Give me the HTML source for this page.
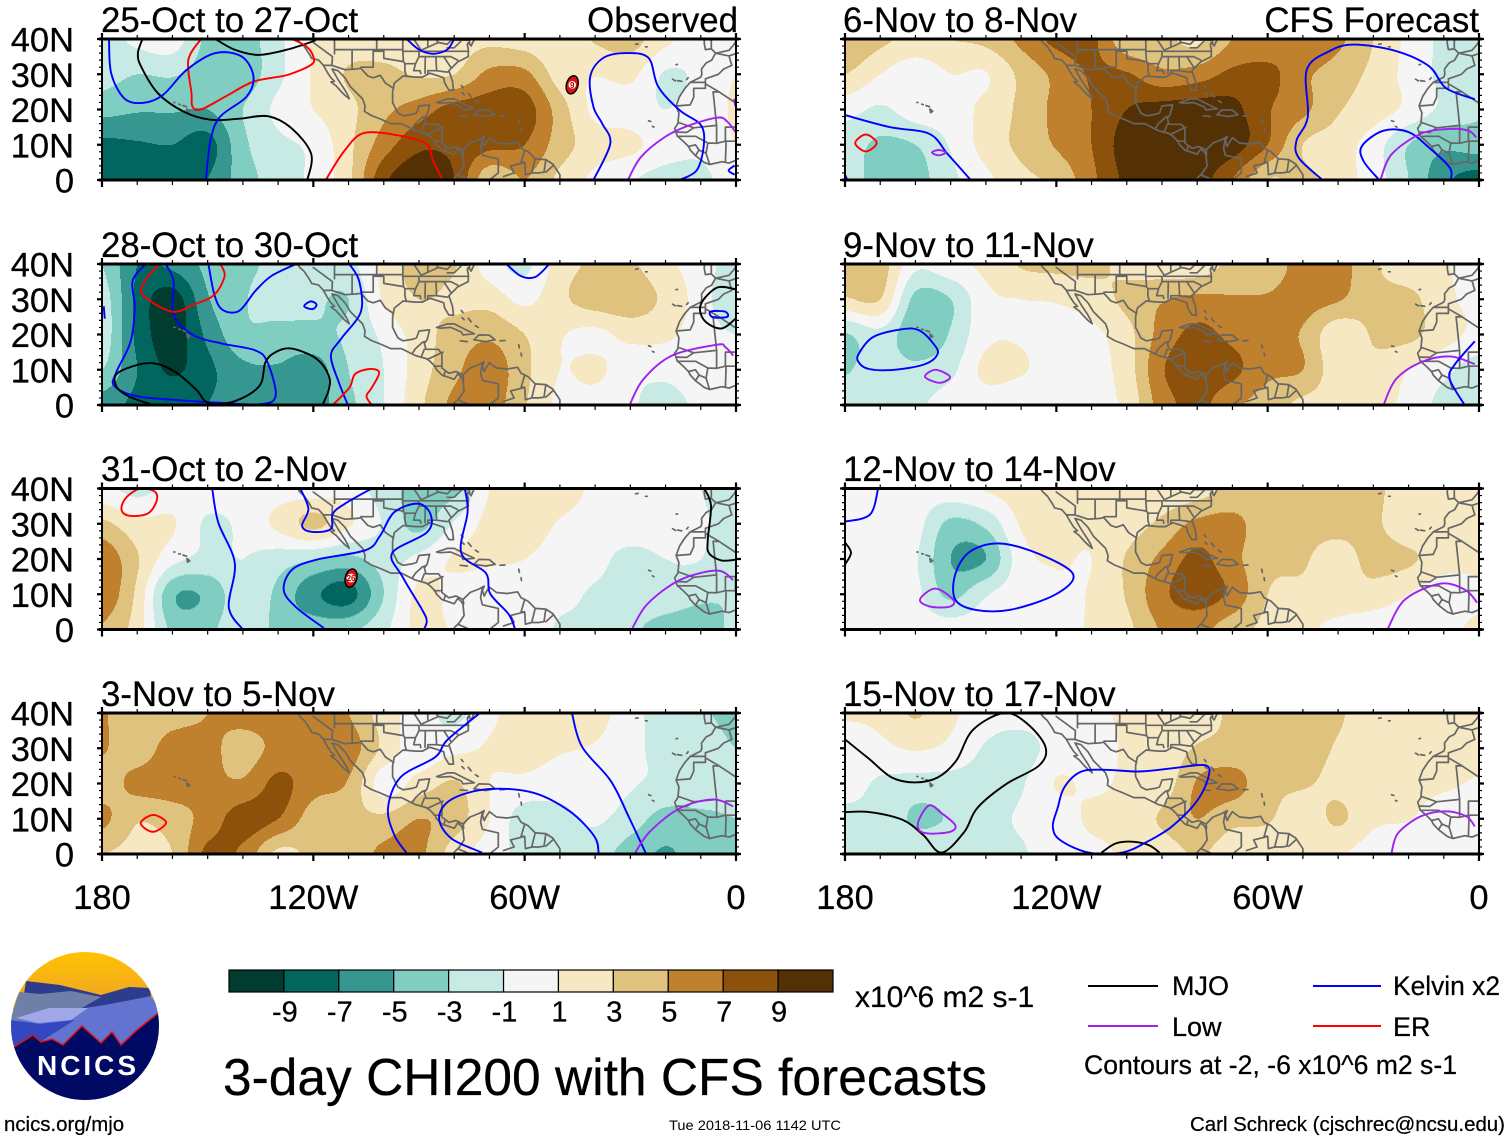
<!DOCTYPE html>
<html lang="en">
<head>
<meta charset="utf-8">
<title>3-day CHI200 with CFS forecasts</title>
<style>
html,body{margin:0;padding:0;background:#fff;}
svg{display:block;}
text{font-family:"Liberation Sans",sans-serif;fill:#000;stroke:#000;stroke-width:0.25px;}
</style>
</head>
<body>
<svg id="chart" xmlns="http://www.w3.org/2000/svg" width="1510" height="1141" viewBox="0 0 1510 1141">
<rect x="0" y="0" width="1510" height="1141" fill="#fff"/>

<g font-size="34.8">
<text x="101" y="32">25-Oct to 27-Oct</text>
<text x="738" y="32" text-anchor="end">Observed</text>
<text x="101" y="257">28-Oct to 30-Oct</text>
<text x="101" y="481">31-Oct to 2-Nov</text>
<text x="101" y="706">3-Nov to 5-Nov</text>
<text x="843" y="32">6-Nov to 8-Nov</text>
<text x="1479" y="32" text-anchor="end">CFS Forecast</text>
<text x="843" y="257">9-Nov to 11-Nov</text>
<text x="843" y="481">12-Nov to 14-Nov</text>
<text x="843" y="706">15-Nov to 17-Nov</text>
</g>

<g id="panels"></g>
<g id="colorbar"></g>

<text x="855" y="1007" font-size="30">x10^6 m2 s-1</text>

<g>
<line x1="1088" y1="986" x2="1158" y2="986" stroke="#000" stroke-width="2"/>
<text x="1172" y="995" font-size="27">MJO</text>
<line x1="1088" y1="1026" x2="1158" y2="1026" stroke="#a020f0" stroke-width="2"/>
<text x="1172" y="1036" font-size="27">Low</text>
<line x1="1313" y1="986" x2="1381" y2="986" stroke="#0000ff" stroke-width="2"/>
<text x="1393" y="995" font-size="27" textLength="107" lengthAdjust="spacingAndGlyphs">Kelvin x2</text>
<line x1="1313" y1="1026" x2="1381" y2="1026" stroke="#ff0000" stroke-width="2"/>
<text x="1393" y="1036" font-size="27">ER</text>
<text x="1084" y="1074" font-size="27" textLength="373" lengthAdjust="spacingAndGlyphs">Contours at -2, -6 x10^6 m2 s-1</text>
</g>

<text x="223" y="1095" font-size="51.5" textLength="764" lengthAdjust="spacingAndGlyphs">3-day CHI200 with CFS forecasts</text>
<text x="4" y="1131" font-size="20.4">ncics.org/mjo</text>
<text x="669" y="1130" font-size="14" textLength="172" lengthAdjust="spacingAndGlyphs" style="stroke-width:0">Tue 2018-11-06 1142 UTC</text>
<text x="1190" y="1131" font-size="20.5" textLength="315" lengthAdjust="spacingAndGlyphs">Carl Schreck (cjschrec@ncsu.edu)</text>

<g>
<clipPath id="logoClip"><circle cx="85" cy="1026" r="74"/></clipPath>
<linearGradient id="sky" x1="0" y1="0" x2="0" y2="1"><stop offset="0" stop-color="#ffc400"/><stop offset="1" stop-color="#eea02a"/></linearGradient>
<g clip-path="url(#logoClip)">
<rect x="10" y="950" width="150" height="60" fill="url(#sky)"/>
<polygon points="26,981 60,985 101,995 129,987 150,988 162,1100 8,1100" fill="#2e3c8c"/>
<polygon points="19,992 40,994 71,991 101,997 82,1008 60,1008 9,1024" fill="#6f7fa8"/>
<polygon points="151,996 162,1012 150,1050 8,1050 12,1022 60,1008 85,1008 105,1005" fill="#6373d0"/>
<polygon points="9,1020 40,1024 75,1020 40,1042 9,1050" fill="#3347c0"/>
<polygon points="16,1018 49,1008 88,1008 71,1020 38,1023" fill="#a0a8e8"/>
<polygon points="8,1048 14,1047 33,1035 41,1042 52,1039 63,1045 82,1026 101,1043 112,1032 121,1045 137,1030 162,1010 162,1102 8,1102" fill="#000a64"/>
<polyline points="8,1048 14,1047 33,1035 41,1042 52,1039 63,1045 82,1026 101,1043 112,1032 121,1045 137,1030 162,1010" fill="none" stroke="#e01010" stroke-width="1.5"/>
</g>
<text x="37" y="1075" font-size="28" font-weight="bold" textLength="99" style="fill:#fff;stroke:none">NCICS</text>
</g>
</svg>

<script>
// ---- Colour scale ----
const levelTicks = [-9,-7,-5,-3,-1,1,3,5,7,9];
const bandColors = ['#003c30','#01665e','#35978f','#80cdc1','#c7eae5','#f5f5f5','#f6e8c3','#dfc27d','#bf812d','#8c510a','#543005'];

// ---- Axis labels ----
const xTickLons = [180,120,60,0];
const xTickLabels = ['180','120W','60W','0'];
const yTickLats = [40,30,20,10,0];
const yTickLabels = ['40N','30N','20N','10N','0'];

// ---- CHI200 anomaly fields: rows 40N,30N,20N,10N,0; columns 180,170W ... 10W,0 ----
const chi25Oct = [
[-2,-0.5,0,-3.5,-4,-1.5,1.2,2,2,2,2.2,2.5,2,1.5,3.2,3.8,1.5,0,0],
[-2.2,-3,-2.8,-4,-4.2,-1.5,1.2,3.2,3.5,2.8,3,5.5,5.5,2,1.1,1.5,-1.2,-0.5,1],
[-4.3,-4.8,-4.8,-5,-3,-0.5,1,2.5,4.5,6,7.8,8,8,4,0.5,0,-1,0,1.2],
[-7.5,-7.2,-7,-7.8,-3.5,-1.5,-0.5,2.5,6,8.5,8.5,7.5,7,4,2,1.5,0,-0.5,1],
[-8,-8,-8,-7,-4,-2,-0.5,2.5,8.5,10.5,9,3.5,5,2.5,0.5,-0.8,-1.8,-1.5,0]];
const chi28Oct = [
[-3,-7,-6.5,-4.5,-3.5,-2.5,-2,-1.6,1.5,4,3.2,0,-1.5,2,3.3,3.3,1.5,0,-2],
[-2,-7.5,-10,-5.2,-3.2,-2.3,-2.6,-3,1.2,3,2.5,2.2,0.5,2.5,4,4.2,2.5,0,-3],
[-1.8,-7.5,-10,-6.5,-3.5,-3.6,-3.5,-2.6,-0.5,2,3.8,4.6,3,1.2,0.5,1.6,1.4,0,-1],
[-3,-7,-9.3,-7.5,-5.5,-5.2,-6,-3,-1,2,4.5,6.2,3.5,1,1.5,-0.3,-0.5,0,0],
[-6,-7.5,-7.5,-7,-6,-5.5,-5.8,-3.5,-1,2.5,5.5,6,3.2,0.5,0,-0.8,-1.6,-0.6,0]];
const chi31Oct = [
[-0.5,-1.6,-0.3,0,0,0,0,0,-2,-3.8,-3.5,1,2,2.2,0.5,0,0,-1,-2.5],
[3.5,1.6,1.2,-1.3,-0.5,1.5,3.5,1.3,-1.2,-3.6,-0.8,1.6,2.2,0.8,0,0,0,-0.5,-3],
[6.5,3.2,-0.3,-1.5,-1,-2,-2.8,-3.5,-2,-0.5,1.2,1.3,1,0,-0.5,-1.5,-1,-1,-3],
[6.5,2.5,-4.6,-4.6,-1.5,-3.5,-6.5,-7.8,-3,1.5,0.3,-0.3,0,-0.5,-1.2,-1.5,-1.5,-2.5,-3],
[4.8,2,-3.5,-3.5,-1.5,-3.5,-3.8,-3.5,-1.5,1.5,0.8,0,0,-1.2,-1.3,-2.5,-4,-4.2,-2.5]];
const chi3Nov = [
[5.2,3.5,4,5,5.8,6,6,5,2,0,-1.5,0.5,2,2,2,-0.5,-1.5,-2.5,-4],
[5.2,3.8,6,5.6,4.2,5.6,6,6,2.5,-0.3,0.5,1.2,1.8,1.2,0.8,-0.5,-1.5,-1.5,-3],
[4,5.6,6,5.6,5.3,7.5,5.8,4.8,0,1.8,3.2,1,0.5,0,0.3,-0.8,-1.4,-1.5,-2],
[5.5,3.2,4,5.8,8,7,4,3.6,3.5,5,4,1,-2,-1.6,-0.7,-2,-3.8,-3.5,-3],
[3,2.5,3,7.5,6.5,2.5,3.5,3.7,5.5,5.5,2,0,-1.5,-1.6,-2,-4,-5.2,-4,-3]];
const chi6Nov = [
[5,3.5,2.5,3,3.5,5.5,7.5,7.5,3.5,3.5,2.5,5,5.5,7,5.5,3,0.5,-1.5,-2],
[3,1,-0.3,1,0.9,3.5,5.5,7.2,7.2,5.5,6,7.5,7.6,5.5,4,2.5,0.3,-1.5,-2.5],
[-0.2,-1.3,0,0.3,1.5,3.5,5.5,7,9,9.8,10,9.6,7.2,5.5,3.2,2,0.5,-1.5,-2.8],
[-2,-3.4,-3,-0.8,1.8,3.5,5.2,7,10,10.5,10.5,10,7,3,2,0,-3,-4.5,-4],
[-2,-3.8,-3.8,-1.5,0.5,2.5,3.5,6.5,9.5,10.5,10,7,3,3.5,2,0,-3,-6.5,-8]];
const chi9Nov = [
[3.8,4,-0.5,0.5,1.5,3.2,3.5,3.5,2.5,1.8,1.8,3.5,3.8,5.8,5.8,3.4,1.5,1.2,0],
[2.8,3,-3.6,-3,0.5,1,1.2,2,3.5,4.8,5.5,5.2,5.2,5.8,5.2,3.6,3.6,1.5,0.5],
[-3.2,-1.6,-4.5,-2.8,0.5,0.8,0,0.5,2.3,5.8,7.5,6.5,5.5,4.8,1.5,3.2,3.5,1.8,0.5],
[-3.2,-2,-2.5,-1.5,1.5,1.2,0,0.3,2,6.8,8,7.5,5.5,5,1.8,2.5,1,-0.5,-2],
[-1.5,-1.5,-1.4,0,0,-0.5,0,0.5,1.5,6,7.5,5.5,4,2.5,2,1.6,0.5,-1.6,-1.5]];
const chi12Nov = [
[-1,-0.3,0,0.3,1.2,2,2,1.5,1.2,1.5,2,3.5,3.6,3.6,3.6,3.6,1.5,1,1.5],
[0,0,-0.3,-3.5,-2.5,1.2,1.6,1.4,2,3.5,5.5,5.6,3.8,3.6,3.6,3.4,1.6,1.6,1.2],
[-0.2,0,-0.8,-5,-5,0.2,1.2,1,3.2,5.5,7.5,5.6,3.6,3.2,2.2,3.6,3.3,2,1.5],
[0,0,-0.5,-3.5,-1.2,0.2,0.5,1.2,3.2,6.5,8,6.5,3,2.6,2.4,2.2,1,-0.3,0.5],
[0,0,0,0,0,0,0.5,1.2,2.5,5.2,5.6,3.8,2.5,1.5,0.3,-0.3,-0.5,0.3,1.5]];
const chi15Nov = [
[1.2,1.5,3.2,1.4,0,-0.2,0,0.5,1.3,1.5,2,3.3,3.5,3.5,3.3,1.5,1.5,1.5,1.5],
[0,0.5,1.2,0.5,-1.2,-1.8,-0.2,0.2,1.2,1.5,3.2,3.6,3.8,3.7,2.8,1.5,1.6,1.6,1.6],
[-0.2,-1.3,-1.8,-1.8,-1.7,-1.2,1.1,0.7,1.3,1.8,5.2,5.8,3.6,3.2,2.5,1.6,1.5,1.3,0.8],
[-1.5,-1.5,-3.3,-2.8,-1.6,-0.8,0,1.3,1.5,3.3,5,3.6,3.2,1.8,3.3,1.4,1.1,0,-0.2],
[-1.4,-1.6,-1.5,-1.4,-1.5,-1.2,0,0.5,1.3,1.8,3.2,1.8,1.6,1.3,1.2,0,-0.9,0,0]];

// ---- Filtered contours: [degrees west, degrees north] ----
const lines25Oct = [
{s:'mjo',p:[[168.5,40],[169.8,36],[168.9,32.2],[164.1,24.6],[156.6,19.3],[149.2,17.1],[141,17.4],[132.9,18.1],[126.1,14.6],[120.6,7.4],[121.7,0]]},
{s:'mjo',p:[[147.8,40],[142.4,37],[135.6,35.5],[127.4,37],[119.3,39.6]]},
{s:'er',p:[[151.9,40],[155.5,34],[154.6,24.6],[154.3,20.8],[151.9,20],[145.1,23.6],[137,27.9],[127.4,29.8],[120.6,32.7],[120,35],[122,37.9],[126,40]]},
{s:'er',p:[[116.5,0],[111.1,8.4],[105.7,13.3],[96.2,12.7],[88,10.3],[86,5.5],[83.3,0]]},
{s:'kelvin',p:[[178,40],[177.4,30.3],[173.6,23.1],[168.2,21.9],[162.7,24.1],[156,31.2],[147.8,36],[140.3,35],[137,29.3],[139,23.6],[146.5,17.9],[149.2,11.2],[150.5,0]]},
{s:'kelvin',p:[[93.5,40],[90,37],[86,35.8],[82,37],[80,40]]},
{s:'kelvin',p:[[40.5,0],[35.7,10.3],[38,16],[40.5,20.8],[41.4,29.3],[37.7,34.6],[31,36],[24.8,34.6],[22.1,26.5],[16,19.8],[9.9,15.5],[9.2,9.3],[11.2,2.7],[16,0]]},
{s:'kelvin',p:[[0.4,4.1],[2.1,2.7],[0.4,1.5]]},
{s:'low',p:[[30.7,0],[27,6.5],[20.2,12.2],[13.3,15.5],[5.1,17.7],[2.4,16.5],[0.1,13.6]]},
{s:'low',p:[[0.5,23],[0.2,21]]}];
const lines28Oct = [
{s:'kelvin',p:[[167.8,39.8],[171.3,35.2],[170.7,27.5],[171.9,17.9],[176,9.2],[176.5,5.4],[170.1,2.5],[157.4,1.3],[145.8,0.6],[135.3,0.2],[130.7,2.5],[133,12.1],[136.5,15.5],[145.8,17.4],[154,19.8],[159.7,25.6],[159.7,35.2],[162,40]]},
{s:'kelvin',p:[[149.8,40],[148.1,31.3],[145.8,27],[141.1,26.7],[136.5,32.3],[131.9,36.6],[124.9,40]]},
{s:'kelvin',c:1,p:[[122.6,28],[120.8,29.4],[119.1,28.5],[120.2,27.2]]},
{s:'kelvin',p:[[109.8,40],[107,35.2],[106.5,26.5],[112.1,18.8],[115,14],[112.7,6.3],[110.2,0]]},
{s:'kelvin',p:[[65.2,40],[61.1,36.6],[57,36.3],[53,40]]},
{s:'kelvin',c:1,p:[[7.2,26.5],[3.1,26.5],[2.5,25],[6.6,24.9]]},
{s:'kelvin',p:[[179.5,28],[179.2,24.5]]},
{s:'mjo',p:[[165.5,0],[172.5,2.5],[176,5.4],[175.4,9.2],[166.7,11.9],[159.7,9.7],[153.3,4.4],[149.8,0.6],[142.3,1.1],[135.3,5.4],[133.6,12.1],[130.7,15],[126.1,16],[119.1,13.1],[115.6,8.3],[115.6,4.4],[117.4,0]]},
{s:'mjo',p:[[0,32.8],[5.4,33.3],[10,28.5],[9,24],[4.2,21.7],[0,24.6]]},
{s:'er',p:[[163.8,40],[167.8,35.2],[168.4,31.3],[160.3,26.5],[153.9,28.5],[148.1,31.3],[145.2,36.6],[146.4,40]]},
{s:'er',p:[[114.5,0],[109.8,4.9],[108.1,8.8],[104,10.2],[101.3,9.2],[103.4,4.9],[104.9,2.5],[103.4,0]]},
{s:'low',p:[[30.2,0],[26.3,7.3],[18.2,14],[5.4,17.1],[3,16.4],[0.8,14]]}];
const lines31Oct = [
{s:'er',c:1,p:[[169,40],[164.9,39],[164.6,36.1],[167.2,32.8],[172.5,32.3],[174.5,34.2],[173,37.6]]},
{s:'kelvin',p:[[148.7,40],[147,30.4],[142.3,18.8],[144,6.3],[140,0]]},
{s:'kelvin',p:[[117,0.4],[124.9,6.3],[128.4,11.2],[126.1,16.9],[119.1,19.8],[105.2,22.5],[101.1,26.5],[97,33.3],[90.1,35.7],[86.6,32.3],[87.8,27.5],[97.6,21.7],[94.7,15],[89,5.4],[87.8,2.5],[88.4,0.4]]},
{s:'kelvin',p:[[123.7,40],[121.4,34.2],[123.2,29.4],[120.3,27.7],[115,28.5],[114.5,32.8],[111,35.7],[103.4,40]]},
{s:'kelvin',p:[[77,40],[76.2,33.3],[78,21.7],[71,16],[69.8,10.2],[64.6,4.4],[62.8,0.4]]},
{s:'mjo',p:[[9,40],[7.1,35.2],[8,25.6],[7.7,21.7],[4.2,19.6],[0,19.8]]},
{s:'low',p:[[29.4,0.4],[25.1,7.3],[16,14],[5.4,16.7],[0.8,14]]}];
const lines3Nov = [
{s:'er',c:1,p:[[169,8.7],[165.5,11.1],[161.8,8.9],[165.5,6.3]]},
{s:'kelvin',p:[[72.7,40],[82,32.3],[85.4,27.5],[95.3,21.7],[98.8,13],[97,5.4],[93.6,0.4]]},
{s:'kelvin',p:[[72.1,0.4],[80.8,4.4],[84.3,10.2],[80.8,15.5],[70.4,18.4],[57.6,17.4],[47.2,12.1],[40.2,5],[39,0.4]]},
{s:'kelvin',p:[[46.6,40],[43.7,30.4],[35.6,20.8],[30.3,10.2],[25.7,0.4]]},
{s:'low',p:[[28.6,0.4],[24.5,6.3],[15.9,13],[6.6,15.5],[0.8,13.5]]}];
const lines6Nov = [
{s:'kelvin',p:[[180,18.4],[167.3,15],[156.1,13.1],[150.8,7.3],[144.3,0]]},
{s:'kelvin',p:[[180,1.5],[179.3,0]]},
{s:'er',c:1,p:[[174.1,12.9],[171,10.5],[174.1,8.1],[177.1,10.5]]},
{s:'low',c:1,p:[[155.3,7.8],[153.4,8.5],[151.4,7.8],[153.4,7]]},
{s:'kelvin',p:[[44.4,0],[51.2,6.3],[51.8,11.2],[48.6,17.9],[48.9,31.3],[42.4,36.6],[35.4,38.4],[23.6,36.6],[14.2,32.3],[9.4,26.1],[1.2,22.9]]},
{s:'kelvin',p:[[8,0],[8.3,3.5],[14.2,9.2],[20,13.6],[27.1,14],[33.2,9.7],[32.8,5.4],[28.3,0]]},
{s:'low',p:[[28,0],[24.8,7.3],[16.5,13.1],[8.3,14.5],[3,14],[0.8,12.1]]}];
const lines9Nov = [
{s:'kelvin',c:1,p:[[176.1,14.5],[172,19.3],[163.7,21.5],[159,21.2],[154.9,17.4],[153.7,14.5],[157.3,11.6],[166.1,10],[173.2,10.2],[176.1,12.1]]},
{s:'low',c:1,p:[[157.3,8],[154.3,10],[150.2,8],[153.1,6.3]]},
{s:'low',p:[[27.1,0],[23.6,7.3],[16.5,12.1],[8.3,13.8],[1.2,11.6]]},
{s:'kelvin',p:[[1.2,18.1],[7.1,11.2],[8.3,7.3],[4.1,0]]}];
const lines12Nov = [
{s:'kelvin',c:1,p:[[148.7,8.5],[148.7,15.6],[144.5,22.1],[136,24.4],[124.6,21.3],[115.2,15.6],[120.3,9.9],[133.1,5.6],[143.1,5.6]]},
{s:'kelvin',p:[[180,30.6],[172.9,32.6],[170.6,40]]},
{s:'mjo',p:[[180,24.7],[178.3,21.8],[180,18.4]]},
{s:'low',c:1,p:[[158.7,8.5],[154.4,11.6],[149.3,8.5],[150.2,6.5],[155.9,6.5]]},
{s:'low',p:[[26,0],[21,8.5],[11,13],[4,11.3],[0.5,7.6]]}];
const lines15Nov = [
{s:'mjo',p:[[180,32.5],[173.2,27],[166.7,21.7],[160.2,20.3],[153.7,21.7],[148.4,26.5],[143.7,35.2],[134.9,40],[128.4,37.1],[123.1,30.4],[124.9,25.1],[134.3,19.8],[142.5,13],[146.1,6.3],[152.6,0.4],[157.8,5.4],[163.7,9.7],[173.2,11.9],[180,11.9]]},
{s:'mjo',p:[[107.2,0.4],[103.1,3],[98.4,3.5],[93.7,2.5],[90.7,0.4]]},
{s:'low',c:1,p:[[159,9.7],[156.1,13.8],[152.6,11.6],[148.7,8.2],[150.2,6.3],[156.1,5.8],[159,6.8]]},
{s:'kelvin',c:1,p:[[110.8,0.4],[119,4],[121,7.9],[119.6,13.1],[117.8,18.8],[113.1,23.3],[106,23.9],[96.6,23.4],[87.2,24.3],[77.8,25.2],[76.8,21.9],[80.1,15],[87.2,7.8],[94.2,3.5],[101.3,0.4]]},
{s:'low',p:[[24.8,0.4],[23,5.9],[16.5,10.7],[9.4,12.1],[3.6,10.7],[1.2,7.8]]}];

// ---- Tropical cyclones: [degrees west, degrees north, label] ----
const storms25Oct = [[46.5,27,'9']];
const storms31Oct = [[109.3,14.6,'26']];

// ---- Base map [longitude, latitude] ----
const coastlines = [
[[-124.5,40],[-123.8,39],[-122.5,37.8],[-121,35.5],[-120.5,34.5],[-118.5,34],[-117.2,32.6],[-116,30.5],[-115,29],[-114,28],[-115,27.8],[-113.5,26.7],[-112,25],[-111,24],[-109.8,23],[-110.3,24.2],[-111,25.5],[-112,27],[-113,28.5],[-114.7,31.5],[-113,31],[-111,29],[-109.5,26.5],[-108,25],[-106,23],[-105.3,21],[-105.5,19.5],[-103.5,18.3],[-101,17.3],[-98,16],[-95,16],[-93,15],[-91,14],[-88,13.2],[-87,12.5],[-85.5,11],[-85,10],[-83.5,8.5],[-82,8],[-80,7.3],[-79,8.8],[-78,8],[-77.5,7],[-77.2,4],[-78.5,2],[-80,0.5],[-80,0]],
[[-77.5,8.5],[-79.5,9.5],[-81.5,9],[-83.5,10.5],[-83.5,14.5],[-84.5,15.8],[-88,15.8],[-88.5,17.5],[-87.7,18.5],[-87,21.3],[-90,21],[-90.7,19],[-92,18.6],[-94.5,18.2],[-96,19],[-97.5,22],[-97.5,25],[-97,27.5],[-94.5,29.5],[-91,29.2],[-89,29.2],[-87,30.3],[-85,29.7],[-83,29],[-82.7,27.5],[-81.5,25.5],[-80.2,25.5],[-80.5,28],[-81.5,31],[-79,33.5],[-76,35],[-76,37],[-76.3,38.5],[-76,39],[-75.2,38],[-74.5,39.5],[-74,40]],
[[-77.5,8.5],[-75.5,10.5],[-73,11.5],[-71.5,12.3],[-72,11],[-71.5,9.5],[-71,10.5],[-70,12],[-68,10.5],[-65,10.2],[-62,10.7],[-61,9],[-59,8],[-57,6],[-54,5.8],[-52,4.5],[-50,1.5],[-50,0]],
[[-72,12],[-72.5,9],[-72,7],[-67.5,6],[-67.5,2],[-70,0]],[[-60,8.5],[-61,5],[-60,5],[-64,4],[-63,2],[-66,1]],[[-57,6],[-58,2],[-56,2]],[[-54,5.8],[-54.5,2.2]],[[-52,4],[-54,2.2]],[[-60,5],[-59.8,1.5],[-58,2],[-56,2],[-54.5,2.2]],[[-79,1.5],[-75.5,0]],
[[-92,14.5],[-91,16],[-89,17.8],[-88.3,18]],[[-89.2,14],[-88.5,15.8]],[[-87.5,13],[-83.2,15]],[[-85.7,11],[-83.7,11]],[[-83,8.2],[-82.6,9.5]],[[-77.5,8.5],[-77.3,7.3]],
[[-117,32.5],[-114.7,32.5],[-111,31.3],[-108,31.5],[-106.5,31.7],[-104.5,29.5],[-103,29],[-101,29.7],[-99.5,27.5],[-97.2,26]],
[[-120,39],[-114.6,35],[-114.7,32.5]],[[-114,40],[-114,35.8]],[[-114,37],[-94.6,37]],[[-109,37],[-109,31.4]],[[-103,37],[-103,32],[-106.5,32]],[[-102,40],[-102,37]],[[-94.6,40],[-94.6,36.5],[-94.4,33.6],[-94,33],[-94,31],[-93.7,29.8]],[[-103,36.5],[-100,36.5],[-100,34.5],[-94.4,33.6]],[[-94.6,36.5],[-90,36.5],[-90,35],[-91,33],[-94,33]],[[-91,33],[-91.5,31],[-89.7,31],[-89.5,30.2]],[[-90,35],[-84,35],[-83,35],[-81,32]],[[-88.2,35],[-88.3,30.3]],[[-85.2,35],[-85,31],[-87.5,31],[-87.5,30.3]],[[-85,31],[-82,30.6],[-81.5,30.7]],[[-89.5,36.5],[-75.9,36.5]],[[-91.5,40],[-89.5,37],[-89.5,36.5]],[[-89,37],[-84.5,39],[-82,38.5],[-80.5,40]],[[-84,35],[-81,35],[-79,34]],[[-80.5,39.7],[-75.7,39.7],[-75.6,38.5]],[[-87.5,38],[-87.5,40]],[[-84.8,39],[-84.8,40]],[[-82,37.5],[-80,37.5],[-78,39.5]],
[[-85,22],[-82,23],[-80,23],[-77,21.5],[-74.3,20.2],[-77.5,19.9],[-78,20.7],[-81,22],[-84,21.8],[-85,22]],[[-74.4,18.5],[-73,19.9],[-70,19.8],[-68.4,18.5],[-71,18],[-74.4,18.5]],[[-78.3,18.2],[-76.3,18]],[[-67,18.2],[-65.6,18.3]],[[-78,26.8],[-77.5,26.2]],[[-77.8,24.8],[-77.2,24.2]],[[-76,24.6],[-75.2,23.6]],[[-74,22.5],[-73.2,22]],[[-61.7,17.1],[-61.5,16.2]],[[-61,14.7],[-60.9,13.9]],[[-159.6,22],[-159.3,22]],[[-158.2,21.5],[-157.8,21.4]],[[-157,21.1],[-156,20.8]],[[-155.9,20.1],[-155.1,19.5],[-155.7,19.1],[-155.9,20.1]],
[[-28.5,38.5],[-27.8,38.6]],[[-25.7,37.8],[-25.2,37.8]],[[-17,32.7],[-16.6,32.8]],[[-18,28.6],[-17.2,28.1]],[[-16.6,28.2],[-15.4,28]],[[-14,28.5],[-13.6,29]],[[-24.8,16.8],[-24.2,16.6]],[[-23.7,15.2],[-23.3,15]],
[[-9,40],[-9,38.7],[-8.7,37],[-7,37.2],[-6,36.2],[-5.5,36],[-2,36.8],[-0.5,38.5],[0,39.5]],[[-7,37.2],[-7,39.5],[-7,40]],[[-5.4,35.9],[-2,35.2],[0,35.9]],
[[-5.9,35.8],[-6.9,34],[-8.5,33.2],[-9.8,31.5],[-9.7,30],[-10,29.2],[-13,27.7],[-14.5,26],[-16,23.7],[-17,21],[-16.2,19],[-16.5,16],[-17.4,14.7],[-16.7,12.5],[-15,11],[-13.5,9.5],[-13,8.5],[-11.5,6.9],[-9,5],[-7.5,4.4],[-4,5.2],[-2,4.8],[0,5.6]],
[[-2,35.2],[-1.2,32.5],[-3.5,31.5],[-5,30],[-8.7,28.7],[-8.7,27.7]],[[-13,27.7],[-8.7,27.7],[-8.7,26],[-12,26],[-12,23.5],[-13,21.3],[-17,21]],[[-8.7,27.3],[-4.8,25],[0,21.8]],[[-4.8,25],[-6.5,25],[-5.5,15.5],[-12,14.8],[-16.3,16.3]],[[-16.7,12.4],[-11.5,12.4],[-8,10.5],[-5.5,10.4],[-3,11],[0,11]],[[-16.7,13.6],[-14,13.5],[-12,14.8]],[[-13.5,9.5],[-11.5,10],[-10.5,8.5],[-11.5,6.9]],[[-10.5,8.5],[-8.5,7.6],[-7.5,4.4]],[[-8,10.5],[-8.5,7.6]],[[-5.5,10.4],[-5.5,15.5]],[[-3,5],[-2.8,11]],[[0,11],[0,5.6]],[[-3,11],[-3,15],[0,15]]
];

// ---- Panel definitions ----
const panelDefs = [
{n:'25-oct',x:102,y:39,g:chi25Oct,l:lines25Oct,t:storms25Oct},
{n:'28-oct',x:102,y:264,g:chi28Oct,l:lines28Oct,t:[]},
{n:'31-oct',x:102,y:488.5,g:chi31Oct,l:lines31Oct,t:storms31Oct},
{n:'3-nov',x:102,y:713,g:chi3Nov,l:lines3Nov,t:[]},
{n:'6-nov',x:845,y:39,g:chi6Nov,l:lines6Nov,t:[]},
{n:'9-nov',x:845,y:264,g:chi9Nov,l:lines9Nov,t:[]},
{n:'12-nov',x:845,y:488.5,g:chi12Nov,l:lines12Nov,t:[]},
{n:'15-nov',x:845,y:713,g:chi15Nov,l:lines15Nov,t:[]}];
const seriesColors = {mjo:'#000000',kelvin:'#0000ff',low:'#a020f0',er:'#ff0000'};

const NS = 'http://www.w3.org/2000/svg';
const W = 634, H = 141;
function mk(tag, attrs, parent){
  const el = document.createElementNS(NS, tag);
  for (const k in attrs) el.setAttribute(k, attrs[k]);
  if (parent) parent.appendChild(el);
  return el;
}
function cr(p0,p1,p2,p3,t){
  return 0.5*((2*p1)+(-p0+p2)*t+(2*p0-5*p1+4*p2-p3)*t*t+(-p0+3*p1-3*p2+p3)*t*t*t);
}
function sample(g,u,v){
  const R=g.length, C=g[0].length;
  const c=Math.min(Math.floor(u),C-2), r=Math.min(Math.floor(v),R-2);
  const tu=u-c, tv=v-r, col=[];
  for(let k=-1;k<=2;k++){
    const row=g[Math.max(0,Math.min(R-1,r+k))];
    col.push(cr(row[Math.max(0,c-1)],row[c],row[c+1],row[Math.min(C-1,c+2)],tu));
  }
  return cr(col[0],col[1],col[2],col[3],tv);
}
function bandOf(v){
  let i=0;
  while(i<levelTicks.length && v>levelTicks[i]) i++;
  return i;
}
function smoothPath(pts,closed){
  const n=pts.length;
  const at=i=>closed?pts[(i+n)%n]:pts[Math.max(0,Math.min(n-1,i))];
  let d='M'+pts[0][0].toFixed(1)+' '+pts[0][1].toFixed(1);
  const m=closed?n:n-1;
  for(let i=0;i<m;i++){
    const a=at(i-1),b=at(i),c=at(i+1),e=at(i+2);
    d+='C'+(b[0]+(c[0]-a[0])/6).toFixed(1)+' '+(b[1]+(c[1]-a[1])/6).toFixed(1)+' '+
        (c[0]-(e[0]-b[0])/6).toFixed(1)+' '+(c[1]-(e[1]-b[1])/6).toFixed(1)+' '+
        c[0].toFixed(1)+' '+c[1].toFixed(1);
  }
  return d+(closed?'Z':'');
}

const root = document.getElementById('panels');
panelDefs.forEach(function(P, idx){
  const xScale = lonW => P.x + (180-lonW)*W/180;
  const yScale = lat => P.y + (40-lat)*H/40;
  const g = mk('g',{},root);
  
  
  const clipId='clip'+idx;
  const clip=mk('clipPath',{id:clipId},g);
  mk('rect',{x:P.x,y:P.y,width:W,height:H},clip);

  // filled field
  const fill=mk('g',{'shape-rendering':'crispEdges'},g);
  
  
  const dStr=bandColors.map(()=>[]);
  const cols=P.g[0].length-1, rows=P.g.length-1;
  for(let py=0;py<Math.ceil(H);py++){
    const v=(py+0.5)/H*rows;
    let start=0, cur=bandOf(sample(P.g,0.5/W*cols,v));
    for(let px=1;px<=W;px++){
      const b=px<W?bandOf(sample(P.g,(px+0.5)/W*cols,v)):-1;
      if(b!==cur){
        dStr[cur].push('M'+(P.x+start)+' '+(P.y+py)+'h'+(px-start)+'v1h-'+(px-start)+'z');
        start=px; cur=b;
      }
    }
  }
  dStr.forEach(function(parts,i){
    if(!parts.length) return;
    const path=mk('path',{d:parts.join(''),fill:bandColors[i]},fill);
    
    
  });

  // base map
  const map=mk('g',{'clip-path':'url(#'+clipId+')',fill:'none',stroke:'#666','stroke-width':'1.7','stroke-linejoin':'round','stroke-linecap':'round'},g);
  
  
  let cd='';
  coastlines.forEach(function(seg){
    cd+='M'+seg.map(q=>xScale(-q[0]).toFixed(1)+' '+yScale(q[1]).toFixed(1)).join('L');
  });
  mk('path',{d:cd},map);

  // contours
  const cg=mk('g',{'clip-path':'url(#'+clipId+')',fill:'none','stroke-width':'1.9','stroke-linejoin':'round'},g);
  
  
  P.l.forEach(function(line){
    const pts=line.p.map(q=>[xScale(q[0]),yScale(q[1])]);
    const path=mk('path',{d:smoothPath(pts,!!line.c),stroke:seriesColors[line.s]},cg);
    
    
  });

  // storms
  P.t.forEach(function(s){
    const cx=xScale(s[0]), cy=yScale(s[1]);
    const st=mk('g',{},g);
    
    
    mk('ellipse',{cx:cx,cy:cy,rx:6.5,ry:10,fill:'#000',transform:'rotate(15 '+cx+' '+cy+')'},st);
    mk('ellipse',{cx:cx,cy:cy,rx:5,ry:8.5,fill:'#e01010',transform:'rotate(15 '+cx+' '+cy+')'},st);
    mk('circle',{cx:cx,cy:cy,r:3+String(s[2]).length*0.7,fill:'#fff'},st);
    const tx=mk('text',{x:cx,y:cy+3,'text-anchor':'middle','font-size':8,'font-weight':'bold',style:'fill:#a00;stroke:none'},st);
    tx.textContent=s[2];
    
    
  });

  // frame and ticks
  const ax=mk('g',{stroke:'#000',fill:'none'},g);
  
  
  const X1=P.x+W, Y1=P.y+H;
  mk('path',{d:'M'+(P.x-3)+' '+P.y+'H'+(X1+3)+'M'+(P.x-3)+' '+Y1+'H'+(X1+3),'stroke-width':3},ax);
  mk('path',{d:'M'+P.x+' '+P.y+'V'+Y1+'M'+X1+' '+P.y+'V'+Y1,'stroke-width':2},ax);
  let tk='', tkMaj='';
  for(let lon=0;lon<=180;lon+=10){
    const x=xScale(lon);
    if(lon%60===0) tkMaj+='M'+x+' '+(P.y-6)+'v6M'+x+' '+Y1+'v7';
    else tk+='M'+x+' '+(P.y-4)+'v4M'+x+' '+Y1+'v5';
  }
  for(let lat=0;lat<=40;lat+=2){
    const y=yScale(lat);
    if(lat%10===0) tkMaj+='M'+(P.x-5)+' '+y+'h5M'+X1+' '+y+'h5';
    else tk+='M'+(P.x-3)+' '+y+'h3M'+X1+' '+y+'h3';
  }
  mk('path',{d:tk,'stroke-width':1.2},ax);
  mk('path',{d:tkMaj,'stroke-width':2.2},ax);

  // y labels on left column only
  if(P.x<500){
    yTickLats.forEach(function(lat,i){
      const t=mk('text',{x:P.x-28,y:yScale(lat)+12.5,'text-anchor':'end','font-size':34.5},g);
      t.textContent=yTickLabels[i];
      
      
    });
  }
  // x labels on bottom row
  if(idx===3||idx===7){
    xTickLons.forEach(function(lon,i){
      const t=mk('text',{x:xScale(lon),y:909,'text-anchor':'middle','font-size':34.5},g);
      t.textContent=xTickLabels[i];
      
      
    });
  }
});

// ---- Colour bar ----
const cb=document.getElementById('colorbar');
const cbX=229, cbW=604, cbY=970, cbH=22;
const cbStep=cbW/bandColors.length;
bandColors.forEach(function(col,i){
  const r=mk('rect',{x:cbX+i*cbStep,y:cbY,width:cbStep,height:cbH,fill:col,stroke:'#000','stroke-width':1.2},cb);
  
  
});
levelTicks.forEach(function(v,i){
  const t=mk('text',{x:cbX+(i+1)*cbStep+1,y:1021.5,'text-anchor':'middle','font-size':29},cb);
  t.textContent=String(v);
  
  
});
</script>
</body>
</html>
